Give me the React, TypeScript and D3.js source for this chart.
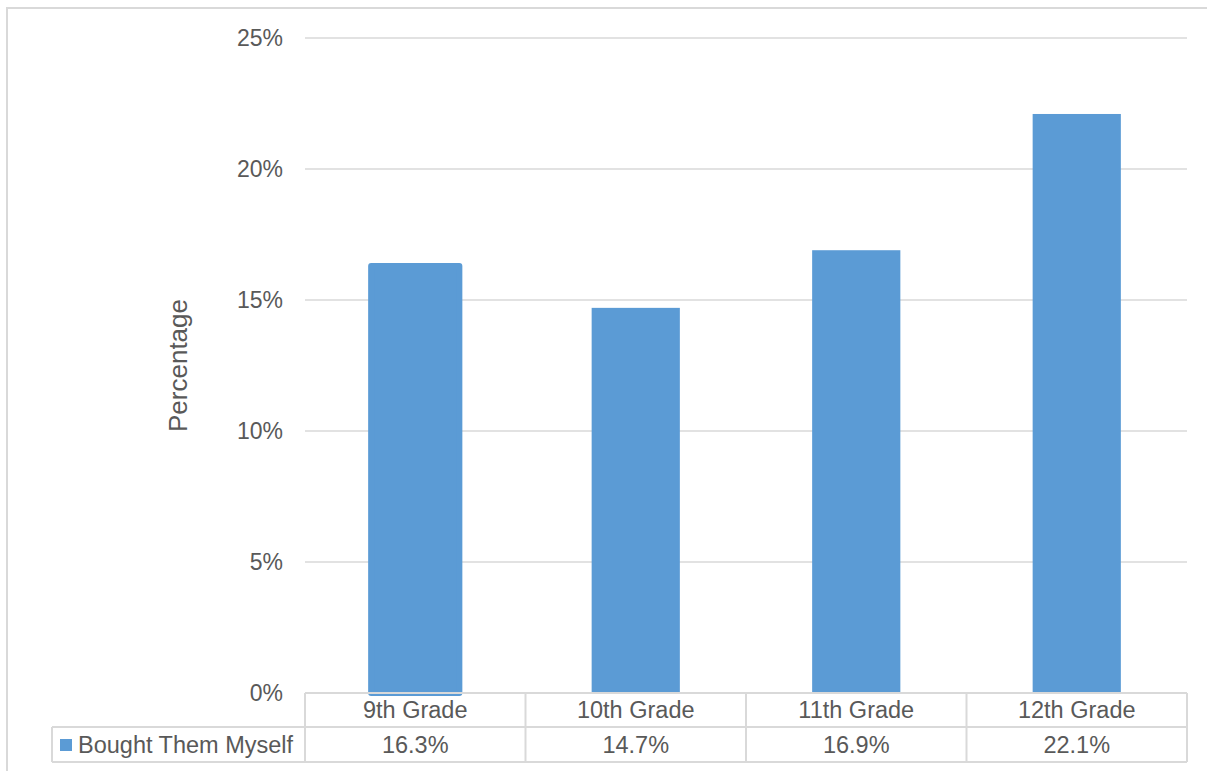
import React from "react";
import * as d3 from "d3";

const categories = ["9th Grade", "10th Grade", "11th Grade", "12th Grade"];
const seriesName = "Bought Them Myself";
const values = [16.3, 14.7, 16.9, 22.1];
const valueLabels = ["16.3%", "14.7%", "16.9%", "22.1%"];
const yTicks = [0, 5, 10, 15, 20, 25];
const yTitle = "Percentage";

const W = 1207;
const H = 771;
const left = 305;
const right = 1187;
const top = 38;
const bottom = 693;
const row1 = 727;
const row2 = 762;
const legendLeft = 52;

const FONT = "'Liberation Sans', Arial, sans-serif";
const TEXT = "#595959";
const GRID = "#d9d9d9";
const BAR = "#5B9BD5";

export default function App() {
  const x = d3.scaleBand<string>().domain(categories).range([left, right]).paddingInner(0.6).paddingOuter(0.3);
  const xCell = d3.scaleBand<string>().domain(categories).range([left, right]).padding(0);
  const y = d3.scaleLinear().domain([0, 25]).range([bottom, top]);

  return (
    <svg width={W} height={H} style={{ position: "absolute", left: 0, top: 0, background: "#fff" }} fontFamily={FONT}>
      <rect x={7} y={8} width={1300} height={900} fill="#fff" stroke={GRID} strokeWidth={2} />
      {yTicks.map((t) => (
        <g key={t}>
          {t > 0 && <line x1={left} x2={right} y1={y(t)} y2={y(t)} stroke={GRID} strokeWidth={1.5} />}
          <text x={283} y={y(t)} dy="0.35em" textAnchor="end" fontSize={23} fill={TEXT}>
            {`${t}%`}
          </text>
        </g>
      ))}
      <text
        transform={`translate(${187},${(top + bottom) / 2}) rotate(-90)`}
        textAnchor="middle"
        fontSize={26}
        fill={TEXT}
      >
        {yTitle}
      </text>
      {values.map((v, i) => (
        <rect
          key={categories[i]}
          x={x(categories[i])}
          y={y(v)}
          width={x.bandwidth()}
          height={bottom - y(v)}
          fill={BAR}
          stroke={i === 0 ? BAR : "none"}
          strokeWidth={i === 0 ? 6 : 0}
          strokeLinejoin="round"
        />
      ))}
      {/* data table */}
      <line x1={left} x2={right} y1={bottom} y2={bottom} stroke={GRID} strokeWidth={2} />
      <line x1={legendLeft} x2={right} y1={row1} y2={row1} stroke={GRID} strokeWidth={2} />
      <line x1={legendLeft} x2={right} y1={row2} y2={row2} stroke={GRID} strokeWidth={2} />
      <line x1={legendLeft} x2={legendLeft} y1={row1} y2={row2} stroke={GRID} strokeWidth={2} />
      {categories.map((c) => (
        <line key={c} x1={xCell(c)} x2={xCell(c)} y1={bottom} y2={row2} stroke={GRID} strokeWidth={2} />
      ))}
      <line x1={right} x2={right} y1={bottom} y2={row2} stroke={GRID} strokeWidth={2} />
      {categories.map((c, i) => (
        <g key={c}>
          <text x={(xCell(c) as number) + xCell.bandwidth() / 2} y={(bottom + row1) / 2} dy="0.35em" textAnchor="middle" fontSize={23.5} fill={TEXT}>
            {c}
          </text>
          <text x={(xCell(c) as number) + xCell.bandwidth() / 2} y={(row1 + row2) / 2} dy="0.35em" textAnchor="middle" fontSize={23.5} fill={TEXT}>
            {valueLabels[i]}
          </text>
        </g>
      ))}
      <rect x={60} y={739} width={12} height={12} fill={BAR} />
      <text x={78} y={(row1 + row2) / 2} dy="0.35em" fontSize={23.5} fill={TEXT}>
        {seriesName}
      </text>
    </svg>
  );
}
